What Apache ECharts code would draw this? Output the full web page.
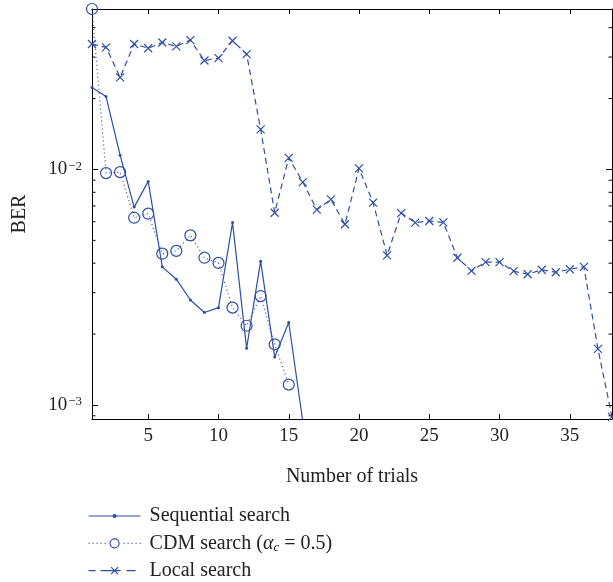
<!DOCTYPE html>
<html>
<head>
<meta charset="utf-8">
<script src="https://cdn.jsdelivr.net/npm/echarts@6/dist/echarts.min.js"></script>
<style>
  html, body { margin: 0; padding: 0; background: #fff; }
  #chart { width: 613px; height: 582px; }
</style>
</head>
<body>
<div id="chart"></div>
<script>
  var trials = [1, 2, 3, 4, 5, 6, 7, 8, 9, 10, 11, 12, 13, 14, 15, 16, 17, 18, 19,
    20, 21, 22, 23, 24, 25, 26, 27, 28, 29, 30, 31, 32, 33, 34, 35, 36, 37, 38];

  var sequential = [0.0223, 0.0204, 0.0115, 0.00692, 0.0089, 0.00386, 0.00342,
    0.00279, 0.00247, 0.00259, 0.00595, 0.00174, 0.00408, 0.0016, 0.00224, 0.00085];

  var cdm = [0.048, 0.00965, 0.00974, 0.00624, 0.00649, 0.00439, 0.00451, 0.00525,
    0.00422, 0.00401, 0.00259, 0.00217, 0.0029, 0.00181, 0.00122];

  var local = [0.0341, 0.0330, 0.0246, 0.0341, 0.0327, 0.0346, 0.0333, 0.0354,
    0.0290, 0.0297, 0.0352, 0.0309, 0.0148, 0.00655, 0.0112, 0.00884, 0.00675,
    0.00746, 0.00585, 0.0101, 0.00723, 0.00432, 0.00653, 0.00595, 0.00604, 0.00596,
    0.00422, 0.00371, 0.00404, 0.00404, 0.00370, 0.00359, 0.00375, 0.00366,
    0.00377, 0.00386, 0.00173, 0.00089];

  var xTicks = [5, 10, 15, 20, 25, 30, 35];
  var minorTicks = [0.0009, 0.002, 0.003, 0.004, 0.005, 0.006, 0.007, 0.008, 0.009,
    0.02, 0.03, 0.04];
  var yMin = 0.000872, yMax = 0.048;

  var color = '#2f4fa6';
  var font = '"Liberation Serif", "DejaVu Serif", serif';
  var crossPath = 'path://M0,0L10,10M10,0L0,10';

  // legend keys drawn in a 52x14 box (line + marker, like the original plot)
  var keyBox = 'M0,0M52,14';
  var seqKey = 'path://' + keyBox + 'M0,7L52,7M24.5,7a1.5,1.5 0 1,0 3,0a1.5,1.5 0 1,0 -3,0';
  var cdmKey = 'path://' + keyBox +
    'M0,7L1,7M4,7L5,7M8,7L9,7M12,7L13,7M16,7L17,7' +
    'M21.5,7a4.5,4.5 0 1,0 9,0a4.5,4.5 0 1,0 -9,0' +
    'M35,7L36,7M39,7L40,7M43,7L44,7M47,7L48,7M51,7L52,7';
  var localKey = 'path://' + keyBox +
    'M0,7L7,7M12,7L32,7M38,7L47,7M22.5,3.5L29.5,10.5M29.5,3.5L22.5,10.5';

  function pairs(vals) {
    return vals.map(function(v, i) {
      return [trials[i], v];
    });
  }

  var chart = echarts.init(document.getElementById('chart'));

  var yLabel = {
    fontFamily: font,
    fontSize: 19,
    color: '#222',
    margin: 10,
    showMinLabel: false,
    showMaxLabel: false,
    formatter: function(v) {
      var e = Math.round(Math.log(v) / Math.LN10);
      return '{b|10}{s|\u2212' + Math.abs(e) + '}';
    },
    rich: {
      b: { fontFamily: font, fontSize: 19, color: '#222' },
      s: { fontFamily: font, fontSize: 13, color: '#222', verticalAlign: 'top', padding: [0, 0, 6, 1] }
    }
  };

  var option = {
    animation: false,
    grid: { left: 92, right: 1, top: 9, bottom: 163 },
    legend: {
      orient: 'vertical',
      left: 88,
      top: 505,
      padding: 0,
      itemWidth: 52,
      itemHeight: 14,
      itemGap: 5.3,
      textStyle: {
        fontFamily: font,
        fontSize: 20,
        color: '#222',
        lineHeight: 22,
        padding: [0, 0, 0, 4],
        rich: {
          i: { fontFamily: font, fontSize: 20, fontStyle: 'italic', color: '#222' },
          sub: { fontFamily: font, fontSize: 13, fontStyle: 'italic', color: '#222', verticalAlign: 'bottom', padding: [9, 0, 0, 0] }
        }
      },
      formatter: function(name) {
        if (name.indexOf('CDM') === 0) {
          return 'CDM search ({i|\u03b1}{sub|c} = 0.5)';
        }
        return name;
      },
      data: [{
        name: 'Sequential search',
        icon: seqKey,
        itemStyle: { color: color, borderColor: color, borderWidth: 1.2 }
      }, {
        name: 'CDM search',
        icon: cdmKey,
        itemStyle: { color: 'rgba(0,0,0,0)', borderColor: color, borderWidth: 1.2 }
      }, {
        name: 'Local search',
        icon: localKey,
        itemStyle: { color: 'rgba(0,0,0,0)', borderColor: color, borderWidth: 1.2 }
      }]
    },
    xAxis: [{
      type: 'value',
      min: 1,
      max: 38,
      position: 'bottom',
      name: 'Number of trials',
      nameLocation: 'middle',
      nameGap: 48,
      nameTextStyle: { fontFamily: font, fontSize: 20, color: '#222' },
      axisLine: { lineStyle: { color: '#000', width: 1 } },
      axisTick: { inside: true, length: 5, lineStyle: { color: '#000' }, customValues: xTicks },
      axisLabel: { fontFamily: font, fontSize: 19, color: '#222', margin: 8, customValues: xTicks },
      splitLine: { show: false }
    }, {
      type: 'value',
      min: 1,
      max: 38,
      position: 'top',
      axisLine: { lineStyle: { color: '#000', width: 1 } },
      axisTick: { inside: true, length: 5, lineStyle: { color: '#000' }, customValues: xTicks },
      axisLabel: { show: false },
      splitLine: { show: false }
    }],
    yAxis: [{
      type: 'log',
      logBase: 10,
      min: yMin,
      max: yMax,
      position: 'left',
      name: 'BER',
      nameLocation: 'middle',
      nameGap: 62,
      nameTextStyle: { fontFamily: font, fontSize: 20, color: '#222' },
      axisLine: { show: true, lineStyle: { color: '#000', width: 1 } },
      axisTick: { inside: true, length: 6, lineStyle: { color: '#000' } },
      axisLabel: yLabel,
      splitLine: { show: false }
    }, {
      type: 'log',
      logBase: 10,
      min: yMin,
      max: yMax,
      position: 'right',
      axisLine: { show: true, lineStyle: { color: '#000', width: 1 } },
      axisTick: { inside: true, length: 6, lineStyle: { color: '#000' } },
      axisLabel: { show: false },
      splitLine: { show: false }
    }],
    series: [{
      name: 'Sequential search',
      type: 'line',
      data: pairs(sequential),
      symbol: 'circle',
      symbolSize: 3,
      lineStyle: { color: color, width: 1.2, type: 'solid' },
      itemStyle: { color: color },
      clip: true
    }, {
      name: 'CDM search',
      type: 'line',
      data: pairs(cdm),
      symbol: 'circle',
      symbolSize: 11,
      lineStyle: { color: color, width: 1.2, type: [1, 3] },
      itemStyle: { color: 'rgba(0,0,0,0)', borderColor: color, borderWidth: 1.2 },
      clip: false
    }, {
      name: 'Local search',
      type: 'line',
      data: pairs(local),
      symbol: crossPath,
      symbolSize: 8,
      lineStyle: { color: color, width: 1.2, type: [6, 4] },
      itemStyle: { color: color, borderColor: color, borderWidth: 1.2 },
      clip: true
    }]
  };

  chart.setOption(option);

  // minor ticks of the log axis, placed through the axis scale
  var grid = chart.getModel().getComponent('grid').coordinateSystem.getRect();
  var marks = [];
  minorTicks.forEach(function(v) {
    var y = chart.convertToPixel({ yAxisIndex: 0 }, v);
    marks.push({
      type: 'line',
      shape: { x1: grid.x, y1: y, x2: grid.x + 3.5, y2: y },
      style: { stroke: '#000', lineWidth: 1 }
    });
    marks.push({
      type: 'line',
      shape: { x1: grid.x + grid.width - 3.5, y1: y, x2: grid.x + grid.width, y2: y },
      style: { stroke: '#000', lineWidth: 1 }
    });
  });
  chart.setOption({ graphic: marks });
</script>
</body>
</html>
